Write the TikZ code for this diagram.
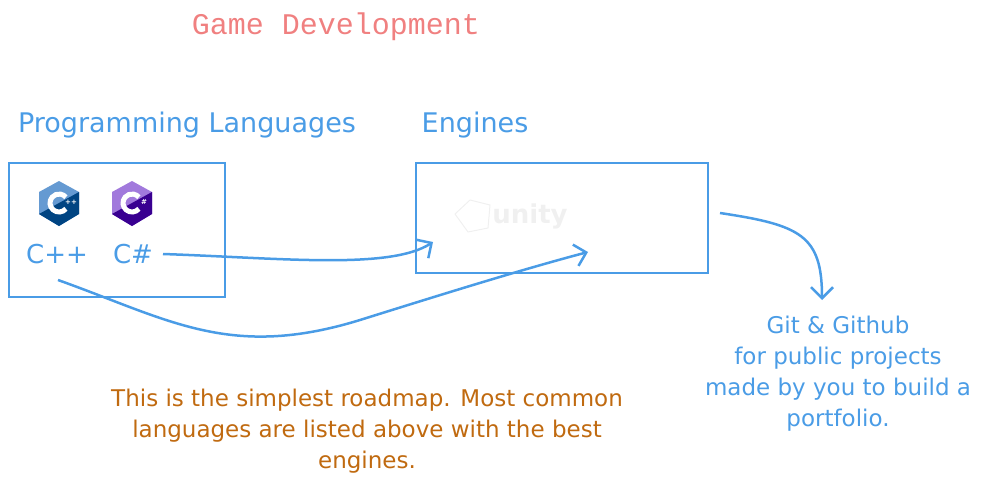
\documentclass[tikz,border=0pt]{standalone}
\usepackage{fontspec}
\usetikzlibrary{arrows.meta}
\setmainfont{DejaVu Sans}
\newfontfamily\monof{Liberation Mono}
\begin{document}
\begin{tikzpicture}[x=1pt,y=-1pt]
\definecolor{sk}{HTML}{4A9CE6}
\definecolor{cppa}{HTML}{659AD2}
\definecolor{cppb}{HTML}{004482}
\definecolor{csa}{HTML}{A179DC}
\definecolor{csb}{HTML}{390091}
\definecolor{ttl}{HTML}{F08080}
\definecolor{note}{HTML}{C06A10}
\tikzset{blu/.style={draw=sk, line width=2.5pt}, lbl/.style={text=sk, inner sep=0pt},
  arr/.style={blu, ->, >={Straight Barb[length=11pt,width=22pt]}}}
\useasboundingbox (0,0) rectangle (1000,487);
\node[text=ttl, inner sep=0pt, font=\monof\fontsize{30}{34}\selectfont] (title) at (336,27) {Game Development};
\node[lbl, font=\fontsize{27}{30}\selectfont] (pl) at (187,125) {Programming Languages};
\node[lbl, font=\fontsize{27}{30}\selectfont] (en) at (475,125) {Engines};
\node[blu, minimum width=216pt, minimum height=134pt, inner sep=0pt] (box1) at (117,230) {};
\node[blu, minimum width=292pt, minimum height=110pt, inner sep=0pt] (box2) at (562,218) {};
% logos
\foreach \cx/\ca/\cb/\sym/\nm in {59/cppa/cppb/++/lcpp, 132/csa/csb/\#/lcs}{
  \fill[fill=\ca] (\cx,181) -- (\cx+20,192) -- (\cx+20,214) -- (\cx,226) -- (\cx-20,214) -- (\cx-20,192) -- cycle;
  \fill[fill=\cb] (\cx,226) -- (\cx-20,214) -- (\cx+20,192) -- (\cx+20,214) -- cycle;
  \draw[white, line width=5pt] (\cx,203) ++(40:9) arc (40:320:9);
  \node[white, font=\bfseries\fontsize{7}{7}\selectfont, inner sep=0pt] (\nm) at (\cx+12,202) {\sym};
}
\node[lbl, font=\fontsize{26}{30}\selectfont] (cpp) at (57,254) {C++};
\node[lbl, font=\fontsize{26}{30}\selectfont] (cs) at (133,254) {C\#};
\node[text=black!6, font=\bfseries\fontsize{26}{30}\selectfont, inner sep=0pt] (unity) at (530,216) {unity};
\draw[black!6, line width=1pt] (470,200) -- (455,214) -- (468,232) -- (488,228) -- (490,205) -- cycle;
\coordinate (a1s) at (163,254); \coordinate (a1e) at (433,242);
\draw[arr] (a1s) .. controls (280,258) and (390,270) .. (a1e);
\coordinate (a2s) at (58,280); \coordinate (a2e) at (588,252);
\draw[arr] (a2s) .. controls (170,320) and (230,360) .. (360,320) .. controls (440,295) and (520,270) .. (a2e);
\coordinate (a3s) at (720,213); \coordinate (a3e) at (822,300);
\draw[arr] (a3s) .. controls (800,225) and (822,235) .. (a3e);
\node[lbl, align=center, font=\fontsize{23}{31}\selectfont] (git) at (838,374) {Git \& Github\\for public projects\\made by you to build a\\portfolio.};
\node[text=note, inner sep=0pt, align=center, font=\fontsize{23}{31}\selectfont] (nt) at (367,431) {This is the simplest roadmap. Most common\\languages are listed above with the best\\engines.};
\end{tikzpicture}
\end{document}
